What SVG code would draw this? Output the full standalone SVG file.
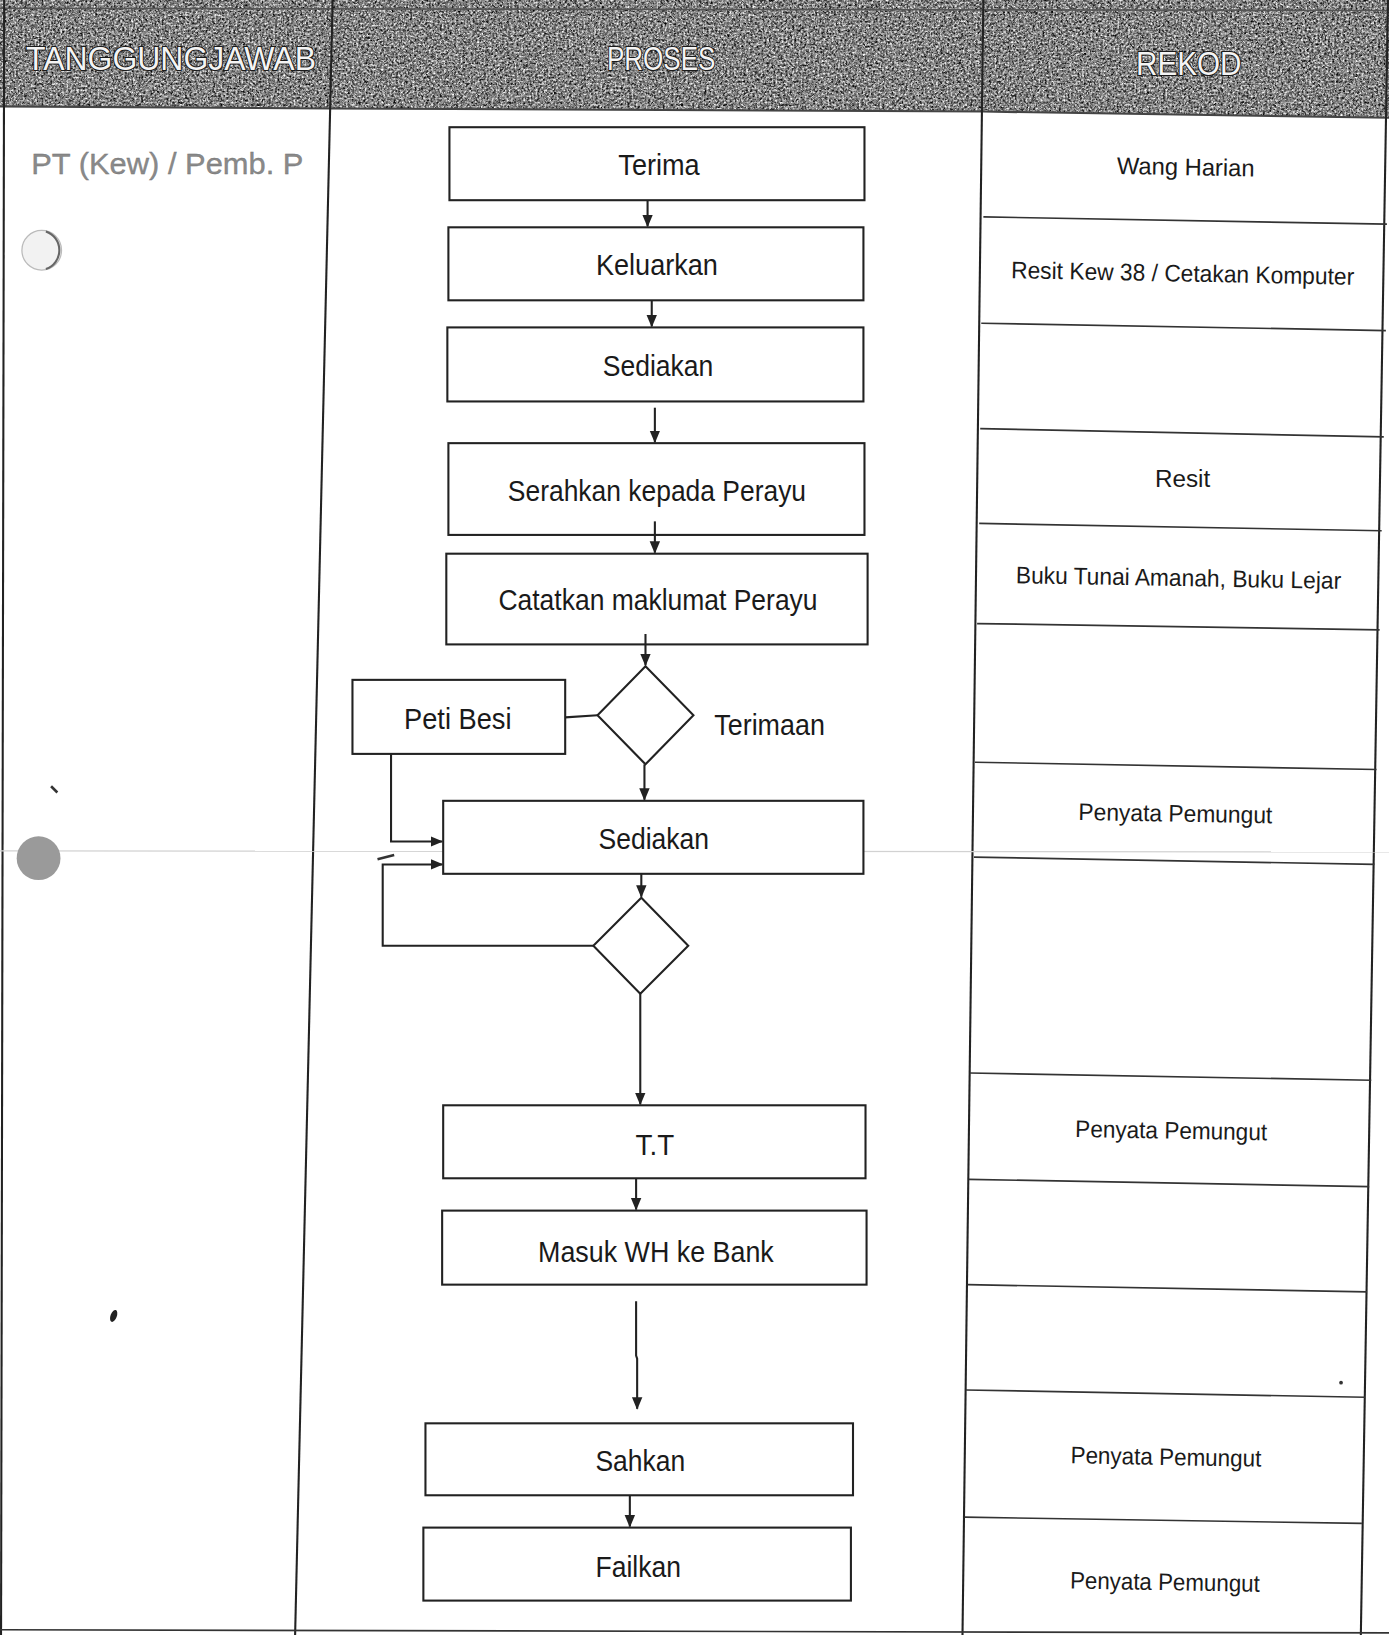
<svg xmlns="http://www.w3.org/2000/svg" width="1389" height="1635" viewBox="0 0 1389 1635">
<defs>
<style>
.box{fill:#fff;stroke:#222;stroke-width:2}
.dia{fill:#fff;stroke:#222;stroke-width:2}
.conn{fill:none;stroke:#222;stroke-width:2}
.rule{fill:none;stroke:#222;stroke-width:2}
.row{fill:none;stroke:#333;stroke-width:1.6}
.t{font-family:"Liberation Sans",Arial,sans-serif;font-size:29px;fill:#1a1a1a;text-anchor:middle}
.r{font-family:"Liberation Sans",Arial,sans-serif;font-size:23px;fill:#1a1a1a;text-anchor:middle}
.h{font-family:"Liberation Sans",Arial,sans-serif;font-size:31px;fill:#f4f4f4;stroke:#1a1a1a;stroke-width:2;paint-order:stroke;text-anchor:middle}
.pt{font-family:"Liberation Sans",Arial,sans-serif;font-size:29px;fill:#8a8a8a;stroke:#707070;stroke-width:0.3}
</style>
<marker id="arr" markerUnits="userSpaceOnUse" markerWidth="12" markerHeight="12" viewBox="0 0 12 12" refX="11" refY="6" orient="auto">
<path d="M0,1 L12,6 L0,11 Z" fill="#222"/>
</marker>
<filter id="noiseDark" x="0" y="0" width="100%" height="100%">
<feTurbulence type="fractalNoise" baseFrequency="0.45" numOctaves="3" seed="4"/>
<feColorMatrix type="matrix" values="0 0 0 0 0  0 0 0 0 0  0 0 0 0 0  2.4 0 0 0 -0.95"/>
<feComposite operator="in" in2="SourceGraphic"/>
</filter>
<filter id="noiseLight" x="0" y="0" width="100%" height="100%">
<feTurbulence type="fractalNoise" baseFrequency="0.5" numOctaves="3" seed="11"/>
<feColorMatrix type="matrix" values="0 0 0 0 1  0 0 0 0 1  0 0 0 0 1  2.4 0 0 0 -1.05"/>
<feComposite operator="in" in2="SourceGraphic"/>
</filter>
</defs>
<rect width="1389" height="1635" fill="#fff"/>
<g transform="scale(1.04279 1.04273)">
<g id="header">
<polygon points="0,0 1332,0 1332,113 943,107 318,104 0,102" fill="#858585"/>
<polygon points="0,0 1332,0 1332,113 943,107 318,104 0,102" fill="#000" filter="url(#noiseDark)"/>
<polygon points="0,0 1332,0 1332,113 943,107 318,104 0,102" fill="#fff" filter="url(#noiseLight)"/>
<line x1="0" y1="8" x2="1332" y2="10" stroke="#555" stroke-width="1.5"/>
<polyline points="0,102 318,104 943,107 1332,113" fill="none" stroke="#444" stroke-width="2"/>
<text class="h" x="164" y="67" textLength="278" lengthAdjust="spacingAndGlyphs">TANGGUNGJAWAB</text>
<text class="h" x="634" y="67" textLength="104" lengthAdjust="spacingAndGlyphs">PROSES</text>
<text class="h" x="1140" y="72" textLength="101" lengthAdjust="spacingAndGlyphs">REKOD</text>
</g>
<g id="table">
<line class="rule" x1="4" y1="0" x2="1" y2="1568"/>
<line class="rule" x1="319" y1="0" x2="283" y2="1568"/>
<line class="rule" x1="943" y1="0" x2="923" y2="1568"/>
<line class="rule" x1="1331" y1="0" x2="1305" y2="1568"/>
<line class="row" x1="0" y1="1563" x2="1332" y2="1566"/>
<line class="row" x1="943" y1="208" x2="1330" y2="215"/>
<line class="row" x1="941" y1="310" x2="1329" y2="317"/>
<line class="row" x1="940" y1="411" x2="1327" y2="419"/>
<line class="row" x1="939" y1="502" x2="1325" y2="509"/>
<line class="row" x1="937" y1="598" x2="1323" y2="604"/>
<line class="row" x1="935" y1="731" x2="1320" y2="738"/>
<line class="row" x1="934" y1="822" x2="1318" y2="829"/>
<line class="row" x1="930" y1="1029" x2="1315" y2="1036"/>
<line class="row" x1="929" y1="1131" x2="1313" y2="1138"/>
<line class="row" x1="928" y1="1232" x2="1311" y2="1239"/>
<line class="row" x1="926" y1="1333" x2="1309" y2="1340"/>
<line class="row" x1="925" y1="1455" x2="1306" y2="1461"/>
</g>
<g id="artefacts">
<line x1="0" y1="816" x2="1332" y2="817" stroke="#d2d2d2" stroke-width="1.2"/>
<circle cx="40" cy="240" r="19" fill="#f2f2f2" stroke="#bbb" stroke-width="1.2"/>
<path d="M44,222 A19,19 0 0 1 44,258" fill="none" stroke="#666" stroke-width="2"/>
<circle cx="37" cy="823" r="21" fill="#9a9a9a"/>
<line x1="49" y1="754" x2="55" y2="760" stroke="#333" stroke-width="2.5"/>
<ellipse cx="109" cy="1262" rx="3" ry="6" fill="#222" transform="rotate(20 109 1262)"/>
<line x1="362" y1="824" x2="378" y2="820" stroke="#333" stroke-width="2.5"/>
<line x1="455" y1="806" x2="460" y2="806" stroke="#777" stroke-width="1.5"/>
<line x1="470" y1="804" x2="474" y2="802" stroke="#777" stroke-width="1.5"/>
<circle cx="1286" cy="1326" r="1.8" fill="#333"/>
</g>
<g id="responsible">
<text class="pt" x="30" y="167" textLength="261" lengthAdjust="spacingAndGlyphs">PT (Kew) / Pemb. P</text>
</g>
<g id="n-terima"><rect class="box" x="431" y="122" width="398" height="70"/><text class="t" x="632" y="168" textLength="78" lengthAdjust="spacingAndGlyphs">Terima</text></g>
<g id="n-keluarkan"><rect class="box" x="430" y="218" width="398" height="70"/><text class="t" x="630" y="264" textLength="117" lengthAdjust="spacingAndGlyphs">Keluarkan</text></g>
<g id="n-sediakan1"><rect class="box" x="429" y="314" width="399" height="71"/><text class="t" x="631" y="361" textLength="106" lengthAdjust="spacingAndGlyphs">Sediakan</text></g>
<g id="n-serahkan"><rect class="box" x="430" y="425" width="399" height="88"/><text class="t" x="630" y="480" textLength="286" lengthAdjust="spacingAndGlyphs">Serahkan kepada Perayu</text></g>
<g id="n-catatkan"><rect class="box" x="428" y="531" width="404" height="87"/><text class="t" x="631" y="585" textLength="306" lengthAdjust="spacingAndGlyphs">Catatkan maklumat Perayu</text></g>
<g id="n-petibesi"><rect class="box" x="338" y="652" width="204" height="71"/><text class="t" x="439" y="699" textLength="103" lengthAdjust="spacingAndGlyphs">Peti Besi</text></g>
<g id="n-terimaan"><polygon class="dia" points="619,639 665,686 619,733 573,686"/><text class="t" x="738" y="705" textLength="106" lengthAdjust="spacingAndGlyphs">Terimaan</text></g>
<g id="n-sediakan2"><rect class="box" x="425" y="768" width="403" height="70"/><text class="t" x="627" y="814" textLength="106" lengthAdjust="spacingAndGlyphs">Sediakan</text></g>
<g id="n-decision"><polygon class="dia" points="615,861 660,907 614,953 569,907"/></g>
<g id="n-tt"><rect class="box" x="425" y="1060" width="405" height="70"/><text class="t" x="628" y="1108" textLength="37" lengthAdjust="spacingAndGlyphs">T.T</text></g>
<g id="n-masuk"><rect class="box" x="424" y="1161" width="407" height="71"/><text class="t" x="629" y="1210" textLength="226" lengthAdjust="spacingAndGlyphs">Masuk WH ke Bank</text></g>
<g id="n-sahkan"><rect class="box" x="408" y="1365" width="410" height="69"/><text class="t" x="614" y="1411" textLength="86" lengthAdjust="spacingAndGlyphs">Sahkan</text></g>
<g id="n-failkan"><rect class="box" x="406" y="1465" width="410" height="70"/><text class="t" x="612" y="1512" textLength="82" lengthAdjust="spacingAndGlyphs">Failkan</text></g>
<g id="connectors">
<path class="conn" d="M621,192 V217" marker-end="url(#arr)"/>
<path class="conn" d="M625,288 V313" marker-end="url(#arr)"/>
<path class="conn" d="M628,391 V424" marker-end="url(#arr)"/>
<path class="conn" d="M628,500 V530" marker-end="url(#arr)"/>
<path class="conn" d="M619,608 V638" marker-end="url(#arr)"/>
<path class="conn" d="M542,688 L573,686"/>
<path class="conn" d="M618,733 V767" marker-end="url(#arr)"/>
<path class="conn" d="M375,723 V807 H424" marker-end="url(#arr)"/>
<path class="conn" d="M569,907 H367 V829 H424" marker-end="url(#arr)"/>
<path class="conn" d="M615,838 V860" marker-end="url(#arr)"/>
<path class="conn" d="M614,953 V1059" marker-end="url(#arr)"/>
<path class="conn" d="M610,1130 V1160" marker-end="url(#arr)"/>
<path class="conn" d="M610,1248 V1300 L611,1303 V1351" marker-end="url(#arr)"/>
<path class="conn" d="M604,1434 V1464" marker-end="url(#arr)"/>
</g>
<g id="records">
<text class="r" x="1137" y="168" textLength="132" lengthAdjust="spacingAndGlyphs" transform="rotate(1 1137 168)">Wang Harian</text>
<text class="r" x="1134" y="270" textLength="329" lengthAdjust="spacingAndGlyphs" transform="rotate(1.1 1134 270)">Resit Kew 38 / Cetakan Komputer</text>
<text class="r" x="1134" y="467" textLength="53" lengthAdjust="spacingAndGlyphs">Resit</text>
<text class="r" x="1130" y="562" textLength="312" lengthAdjust="spacingAndGlyphs" transform="rotate(1 1130 562)">Buku Tunai Amanah, Buku Lejar</text>
<text class="r" x="1127" y="788" textLength="186" lengthAdjust="spacingAndGlyphs" transform="rotate(1 1127 788)">Penyata Pemungut</text>
<text class="r" x="1123" y="1092" textLength="184" lengthAdjust="spacingAndGlyphs" transform="rotate(1 1123 1092)">Penyata Pemungut</text>
<text class="r" x="1118" y="1405" textLength="183" lengthAdjust="spacingAndGlyphs" transform="rotate(1 1118 1405)">Penyata Pemungut</text>
<text class="r" x="1117" y="1525" textLength="182" lengthAdjust="spacingAndGlyphs" transform="rotate(1 1117 1525)">Penyata Pemungut</text>
</g>
</g>
</svg>
